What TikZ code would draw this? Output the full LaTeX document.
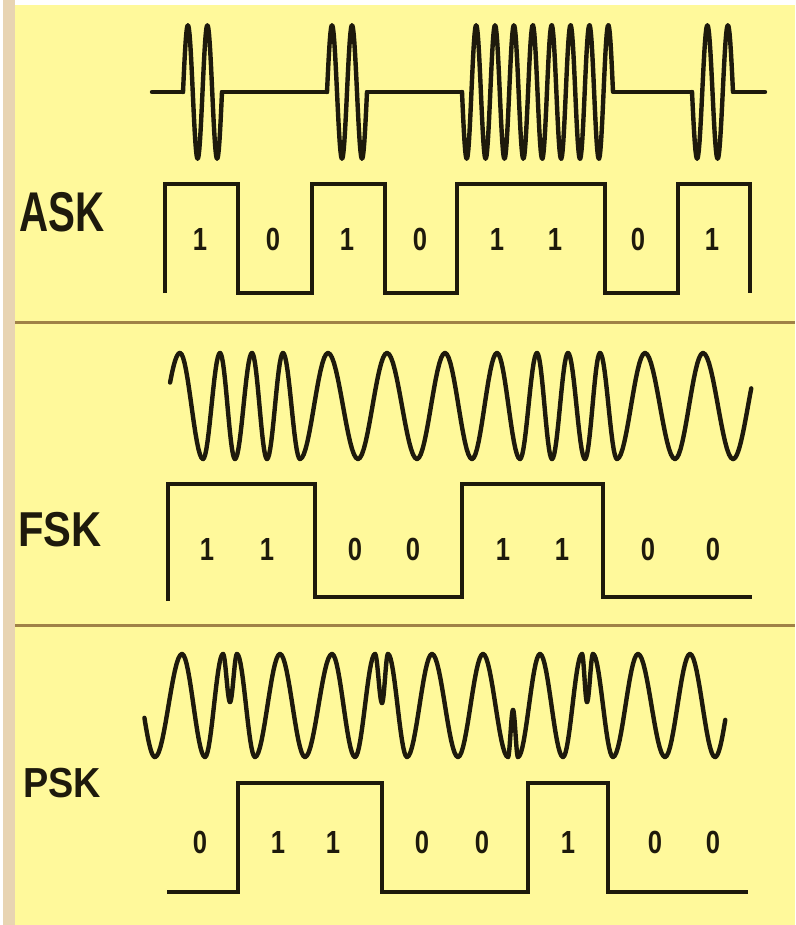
\documentclass[tikz,border=0pt]{standalone}
\usepackage{fontspec}
\setmainfont{Liberation Sans}
\definecolor{bgy}{RGB}{255,249,155}
\definecolor{ink}{RGB}{30,26,12}
\definecolor{sepc}{RGB}{160,130,70}
\definecolor{stripc}{RGB}{232,212,178}
\tikzset{
  wave/.style={draw=ink, line width=4.4pt, line cap=round, line join=round},
  sqwave/.style={draw=ink, line width=4.2pt, line join=miter},
  sepline/.style={draw=sepc, line width=3pt},
  bit/.style={font=\fontsize{32}{34}\selectfont\bfseries, text=ink, inner sep=0pt, xscale=0.8},
  lbl/.style={text=ink, inner sep=0pt}
}
\newcommand\wseg[6]{\draw[wave] plot[domain=#5:#6,samples=16] ({#1+(#3-#1)*\x},{(#2+#4)/2+(#2-#4)/2*cos(180*\x)});}
\newcommand\wchain[3]{\foreach \xb/\yb [remember=\xb as \xa (initially #1), remember=\yb as \ya (initially #2)] in {#3} {\wseg{\xa}{\ya}{\xb}{\yb}{0}{1}}}
\begin{document}
\begin{tikzpicture}[x=1pt,y=-1pt]
\useasboundingbox (0,0) rectangle (795,925);
% background
\fill[white] (0,0) rectangle (795,925);
\fill[stripc] (3,0) rectangle (15,925);
\fill[bgy] (15,5) rectangle (795,925);
\draw[sepline] (15,322) -- (795,322);
\draw[sepline] (15,625) -- (795,625);

% ---------------- ASK ----------------
\draw[wave] (152,92) -- (183,92);
\draw[wave] (222,92) -- (327,92);
\draw[wave] (367,92) -- (462,92);
\draw[wave] (613,92) -- (692,92);
\draw[wave] (733,92) -- (765,92);
\draw[wave] plot[domain=0:2, samples=61] ({183+19.5*\x},{92-67*sin(360*\x)});
\draw[wave] plot[domain=0:2, samples=61] ({327+20*\x},{92-67*sin(360*\x)});
\draw[wave] plot[domain=0:8, samples=241] ({462+18.875*\x},{92+67*sin(360*\x)});
\draw[wave] plot[domain=0:2, samples=61] ({692+20.5*\x},{92+67*sin(360*\x)});
\draw[sqwave] (165,293) -- (165,184) -- (238,184) -- (238,293) -- (312,293) -- (312,184)
  -- (385,184) -- (385,293) -- (457,293) -- (457,184) -- (605,184) -- (605,293)
  -- (678,293) -- (678,184) -- (750,184) -- (750,293);
\node[lbl, font=\fontsize{56}{60}\selectfont\bfseries, xscale=0.72] (askl) at (62,212) {ASK};
\foreach \i/\xx/\b in {1/200/1, 2/273/0, 3/347/1, 4/420/0, 5/497/1, 6/555/1, 7/638/0, 8/712/1}
  \node[bit] (a\i) at (\xx,239) {\b};

% ---------------- FSK ----------------
\wseg{152}{459}{180}{353}{0.646}{1}
\wchain{180}{353}{203/459, 220/353, 235/459, 252/353, 267/459, 283/353, 300/459, 328/353, 358/459, 387/353, 417/459, 445/353, 472/459, 497/353, 520/459, 537/353, 552/459, 568/353, 585/459, 600/353, 617/459, 645/353, 675/459, 703/353, 733/459}
\wseg{733}{459}{763}{353}{0}{0.608}
\draw[sqwave] (168,601) -- (168,484) -- (315,484) -- (315,597) -- (462,597) -- (462,484)
  -- (603,484) -- (603,597) -- (752,597);
\node[lbl, font=\fontsize{49}{52}\selectfont\bfseries, xscale=0.85] (fskl) at (60,530) {FSK};
\foreach \i/\xx/\b in {1/207/1, 2/267/1, 3/355/0, 4/413/0, 5/503/1, 6/562/1, 7/648/0, 8/713/0}
  \node[bit] (f\i) at (\xx,549) {\b};

% ---------------- PSK ----------------
\wseg{130}{654}{155}{757}{0.577}{1}
\wchain{155}{757}{182/654, 205/757, 223/654, 230/702, 237/654, 255/757, 280/654, 305/757, 332/654, 355/757, 375/654, 382/703, 388/654, 407/757, 432/654, 458/757, 483/654, 508/757, 513/710, 518/757, 540/654, 563/757, 582/654, 587/702, 593/654, 613/757, 638/654, 665/757, 690/654, 715/757}
\wseg{715}{757}{740}{654}{0}{0.41}
\draw[sqwave] (167,892) -- (238,892) -- (238,783) -- (382,783) -- (382,892) -- (528,892)
  -- (528,783) -- (608,783) -- (608,892) -- (748,892);
\node[lbl, font=\fontsize{42}{46}\selectfont\bfseries, xscale=0.9] (pskl) at (62,783) {PSK};
\foreach \i/\xx/\b in {1/200/0, 2/278/1, 3/333/1, 4/422/0, 5/482/0, 6/568/1, 7/655/0, 8/713/0}
  \node[bit] (p\i) at (\xx,842) {\b};
\end{tikzpicture}
\end{document}
